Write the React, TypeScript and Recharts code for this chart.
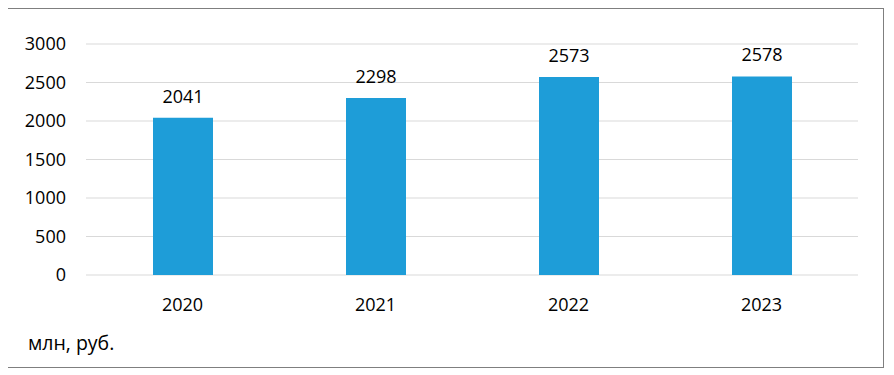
import React from "react";
import { BarChart, Bar, XAxis, YAxis, CartesianGrid, LabelList } from "recharts";

const years = ["2020", "2021", "2022", "2023"];
const values = [2041, 2298, 2573, 2578];
const yTicks = [0, 500, 1000, 1500, 2000, 2500, 3000];
const unitLabel = "млн, руб.";

const data = years.map((y, i) => ({ year: y, value: values[i] }));

const FONT = "'Open Sans', sans-serif";

export default function App() {
  return (
    <div
      style={{
        position: "relative",
        width: 875,
        height: 358,
        marginLeft: -1,
        border: "1px solid #7f7f7f",
        background: "#fff",
        fontFamily: FONT,
      }}
    >
      <BarChart
        width={875}
        height={358}
        data={data}
        margin={{ top: 35, right: 25, left: 0, bottom: 62 }}
      >
        <CartesianGrid vertical={false} stroke="#d9d9d9" strokeWidth={1} />
        <XAxis
          dataKey="year"
          axisLine={false}
          tickLine={false}
          tickSize={0}
          tickMargin={23}
          height={30}
          tick={{ fill: "#000", fontSize: 18, fontFamily: FONT }}
        />
        <YAxis
          domain={[0, 3000]}
          ticks={yTicks}
          axisLine={false}
          tickLine={false}
          tickSize={0}
          tickMargin={20}
          width={78}
          tick={{ fill: "#000", fontSize: 18, fontFamily: FONT }}
        />
        <Bar dataKey="value" fill="#1e9dd8" barSize={60} isAnimationActive={false}>
          <LabelList
            dataKey="value"
            position="top"
            offset={15}
            style={{ fill: "#000", fontSize: 18, fontFamily: FONT }}
          />
        </Bar>
      </BarChart>
      <svg
        width={200}
        height={40}
        style={{ position: "absolute", left: 0, top: 320 }}
      >
        <text x={20} y={350 - 9 - 320} fontSize={19.5} fontFamily={FONT} fill="#000">
          {unitLabel}
        </text>
      </svg>
    </div>
  );
}
